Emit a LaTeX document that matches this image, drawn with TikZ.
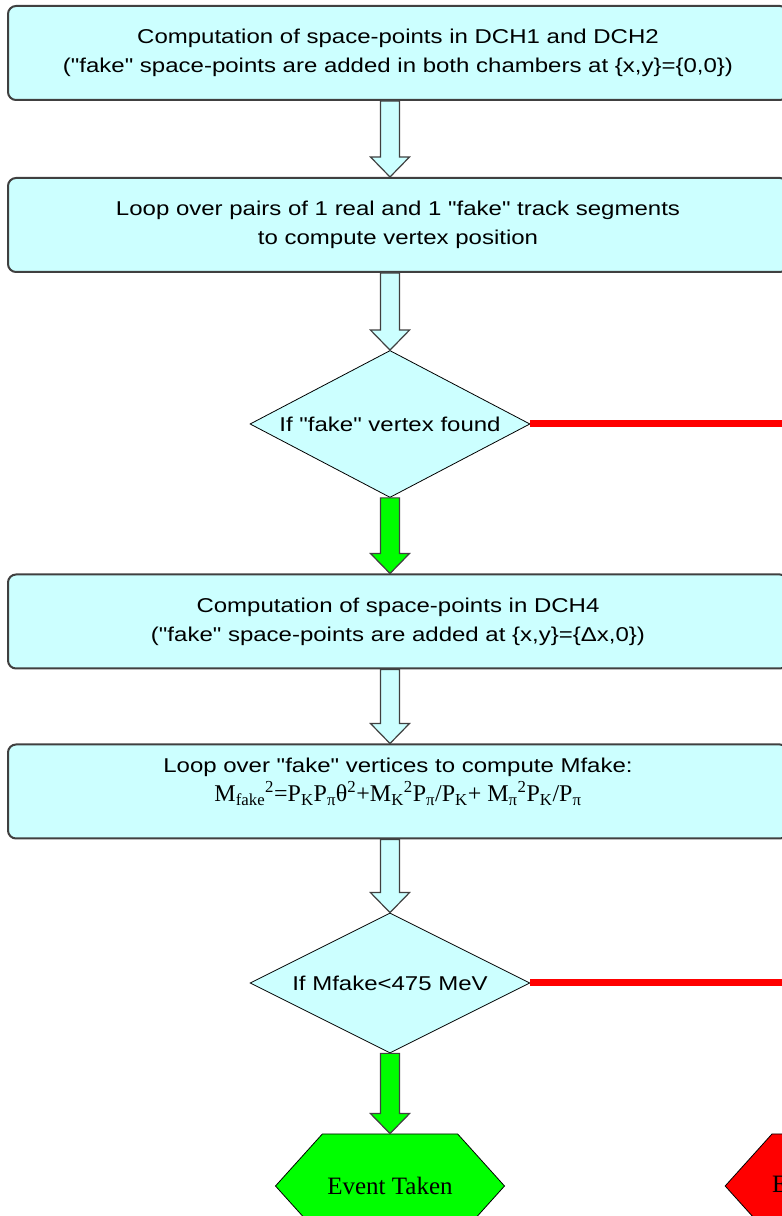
\documentclass[tikz,border=0pt]{standalone}
\usepackage{fontspec}
\setmainfont{Liberation Serif}
\newfontfamily\boxfont[FakeStretch=1.2]{Liberation Sans}
\usepackage{tikz}
\usetikzlibrary{shapes.geometric,shapes.symbols,calc}

\definecolor{boxcyan}{HTML}{CCFFFF}
\definecolor{edgegray}{HTML}{404040}
\definecolor{okgreen}{HTML}{00FF00}
\definecolor{rejred}{HTML}{FF0000}
\newcommand{\colx}{390}

\tikzset{
  procbox/.style={draw=edgegray, line width=2pt, fill=boxcyan, rounded corners=8pt,
    minimum width=780pt, minimum height=94pt, align=center,
    font=\boxfont\fontsize{20}{29}\selectfont},
  decision/.style={diamond, draw=black, line width=0.8pt, fill=boxcyan, inner sep=0pt,
    minimum width=280pt, font=\boxfont\fontsize{20}{29}\selectfont},
  endbox/.style={signal, signal to=west and east, signal pointer angle=96,
    draw=black, line width=0.8pt, inner sep=0pt, minimum width=229pt, minimum height=104pt,
    font=\fontsize{25}{30}\selectfont},
  flowarrow/.style={draw=edgegray, line width=1.2pt, line join=miter},
  rejline/.style={draw=rejred, line width=7pt}
}

\begin{document}
\begin{tikzpicture}[x=1pt,y=1pt]
\useasboundingbox (0,0) rectangle (782,1216);
\clip (0,0) rectangle (782,1216);

\node[procbox] (comp12) at (398,1163) {Computation of space-points in DCH1 and DCH2\\("fake" space-points are added in both chambers at \{x,y\}=\{0,0\})};
\node[procbox] (loop12) at (398,991) {Loop over pairs of 1 real and 1 "fake" track segments\\to compute vertex position};
\node[decision, minimum height=147pt] (fakevtx) at (\colx,792) {\makebox[0pt]{If "fake" vertex found}};
\node[procbox] (comp4) at (398,594.5) {Computation of space-points in DCH4\\("fake" space-points are added at \{x,y\}=\{Δx,0\})};
\node[procbox] (loopm) at (398,424.5) {Loop over "fake" vertices to compute Mfake:\\{\rmfamily\fontsize{24}{29}\selectfont M\textsubscript{fake}\textsuperscript{2}=P\textsubscript{K}P\textsubscript{π}θ\textsuperscript{2}+M\textsubscript{K}\textsuperscript{2}P\textsubscript{π}/P\textsubscript{K}+ M\textsubscript{π}\textsuperscript{2}P\textsubscript{K}/P\textsubscript{π}}\\[-6pt]\mbox{}};
\node[decision, minimum height=140pt] (mcut) at (\colx,233) {\makebox[0pt]{If Mfake<475 MeV}};
\node[endbox, fill=okgreen] (taken) at (\colx,30) {Event Taken};
\node[endbox, fill=rejred] (rejected) at (848,30) {Event Rejected};

\coordinate (rej1) at (800,792);
\coordinate (rej2) at (800,233);

% red exits
\foreach \from/\to in {fakevtx/rej1, mcut/rej2}
  \draw[rejline] (\from.east) -- (\to);

% block arrows
\foreach \from/\to/\col in {comp12/loop12/boxcyan, loop12/fakevtx/boxcyan, fakevtx/comp4/okgreen,
    comp4/loopm/boxcyan, loopm/mcut/boxcyan, mcut/taken/okgreen}
  \draw[flowarrow, fill=\col] let \p1=(\from.south), \p2=(\to.north) in
    (\colx-9.5,\y1) -- (\colx-9.5,\y2+20) -- (\colx-19.5,\y2+20) -- (\colx,\y2)
    -- (\colx+19.5,\y2+20) -- (\colx+9.5,\y2+20) -- (\colx+9.5,\y1) -- cycle;

\end{tikzpicture}
\end{document}
